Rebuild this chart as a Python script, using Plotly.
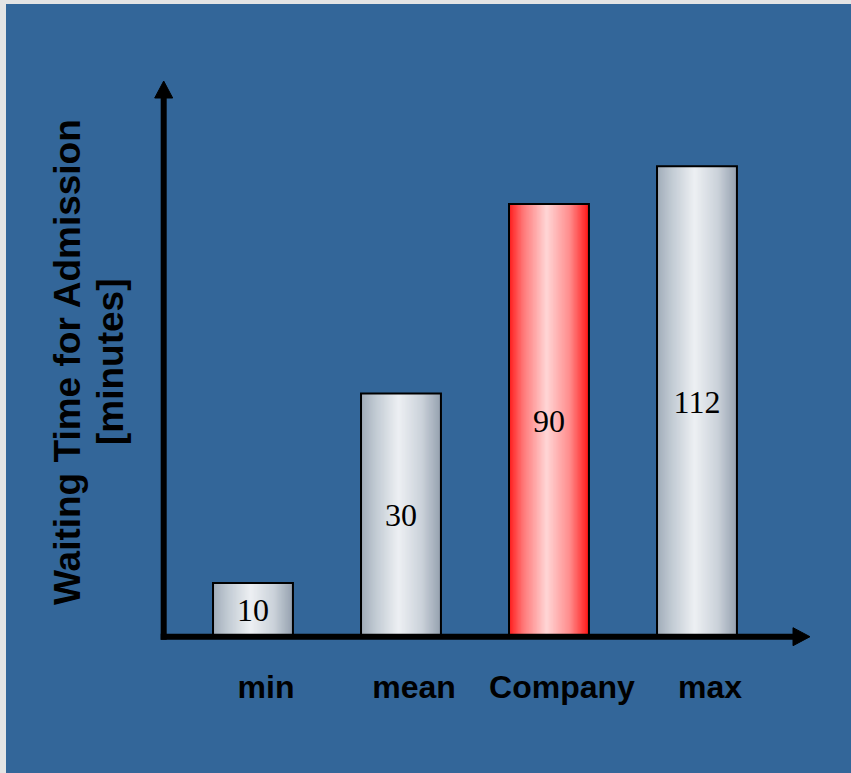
import plotly.graph_objects as go

# ---- data -------------------------------------------------------------
categories = ["min", "mean", "Company", "max"]
minutes = [10, 30, 90, 112]
highlight = "Company"
title_lines = ["Waiting Time for Admission", "[minutes]"]

# ---- geometry -----------------------------------------------------------
W, H = 851, 773
L, R, T, B = 163, 59, 98, 136
PW, PH = W - L - R, H - T - B


def px2x(px):
    return (px - L) / PW


def py2y(py):
    return (H - B - py) / PH


BLUE = "#336699"
BAR_W = 0.54
X_RANGE = [-0.608, 3.642]
Y_RANGE = [0.8637, 2.2214]          # log10 units
floor = 10 ** Y_RANGE[0]            # bars rise from the bottom of the axis
lengths = [v - floor for v in minutes]

# cylinder-like shading across each bar
GRAY = [(0.00, (160, 172, 185)), (0.18, (193, 202, 211)), (0.47, (237, 240, 243)),
        (0.76, (203, 210, 218)), (1.00, (148, 160, 174))]
RED = [(0.00, (255, 28, 28)), (0.18, (255, 120, 120)), (0.47, (255, 214, 214)),
       (0.76, (255, 140, 140)), (1.00, (255, 22, 22))]


def shade(stops, t):
    for (t0, c0), (t1, c1) in zip(stops[:-1], stops[1:]):
        if t0 <= t <= t1:
            f = (t - t0) / (t1 - t0)
            c = [round(a + (b - a) * f) for a, b in zip(c0, c1)]
            return f"rgb({c[0]},{c[1]},{c[2]})"
    c = stops[-1][1]
    return f"rgb({c[0]},{c[1]},{c[2]})"


fig = go.Figure()

N = 60
step = BAR_W / N
for k in range(N):
    t = (k + 0.5) / N
    colors = [shade(RED if c == highlight else GRAY, t) for c in categories]
    fig.add_trace(go.Bar(
        x=categories, y=lengths, base=floor,
        offset=-BAR_W / 2 + k * step, width=BAR_W - k * step,
        marker=dict(color=colors, line=dict(width=0)),
        hoverinfo="skip", showlegend=False,
    ))

# outline + value labels
fig.add_trace(go.Bar(
    x=categories, y=lengths, base=floor, width=BAR_W,
    marker=dict(color="rgba(0,0,0,0)", line=dict(color="black", width=2)),
    text=[str(v) for v in minutes], textposition="inside",
    insidetextanchor="middle", constraintext="none", textangle=0,
    textfont=dict(family="Liberation Serif", size=32, color="black"),
    hovertext=[f"{c}: {v}" for c, v in zip(categories, minutes)],
    hoverinfo="text", showlegend=False,
))

# ---- axes drawn as arrows ----------------------------------------------
ax_x, ax_y = 163.7, 636.7
lw = 6
head_len, head_half = 17, 9
tip_top = 81
tip_right = 810

shapes = [
    # page border strips
    dict(type="rect", xref="paper", yref="paper", layer="below",
         x0=px2x(0), x1=px2x(6), y0=py2y(H), y1=py2y(0),
         fillcolor="#e4e4e4", line=dict(width=0)),
    dict(type="rect", xref="paper", yref="paper", layer="below",
         x0=px2x(0), x1=px2x(W), y0=py2y(4), y1=py2y(0),
         fillcolor="#e4e4e4", line=dict(width=0)),
    # vertical axis
    dict(type="line", xref="paper", yref="paper",
         x0=px2x(ax_x), x1=px2x(ax_x), y0=py2y(ax_y + lw / 2),
         y1=py2y(tip_top + head_len), line=dict(color="black", width=lw)),
    dict(type="path", xref="paper", yref="paper",
         path=(f"M {px2x(ax_x - head_half)},{py2y(tip_top + head_len)} "
               f"L {px2x(ax_x)},{py2y(tip_top)} "
               f"L {px2x(ax_x + head_half)},{py2y(tip_top + head_len)} Z"),
         fillcolor="black", line=dict(color="black", width=1)),
    # horizontal axis
    dict(type="line", xref="paper", yref="paper",
         x0=px2x(ax_x - lw / 2), x1=px2x(tip_right - head_len),
         y0=py2y(ax_y), y1=py2y(ax_y), line=dict(color="black", width=lw)),
    dict(type="path", xref="paper", yref="paper",
         path=(f"M {px2x(tip_right - head_len)},{py2y(ax_y - head_half)} "
               f"L {px2x(tip_right)},{py2y(ax_y)} "
               f"L {px2x(tip_right - head_len)},{py2y(ax_y + head_half)} Z"),
         fillcolor="black", line=dict(color="black", width=1)),
]

title_font = dict(family="Liberation Sans", size=37, color="black", weight="bold")
annotations = [
    dict(text=line, textangle=-90, showarrow=False,
         xref="paper", yref="paper", x=px2x(cx), y=py2y(362),
         xanchor="center", yanchor="middle", font=title_font)
    for line, cx in zip(title_lines, [67, 110])
]

fig.update_layout(
    width=W, height=H,
    margin=dict(l=L, r=R, t=T, b=B, pad=0),
    paper_bgcolor=BLUE, plot_bgcolor="rgba(0,0,0,0)",
    barmode="overlay",
    showlegend=False,
    shapes=shapes,
    annotations=annotations,
    xaxis=dict(
        range=X_RANGE, showgrid=False, zeroline=False, showline=False,
        ticks="outside", ticklen=22, tickcolor="rgba(0,0,0,0)",
        ticklabelshift=13,
        tickfont=dict(family="Liberation Sans", size=32, color="black",
                      weight="bold"),
    ),
    yaxis=dict(
        type="log", range=Y_RANGE, showgrid=False, zeroline=False,
        showline=False, showticklabels=False, ticks="",
    ),
)

fig.write_html("out.html")
